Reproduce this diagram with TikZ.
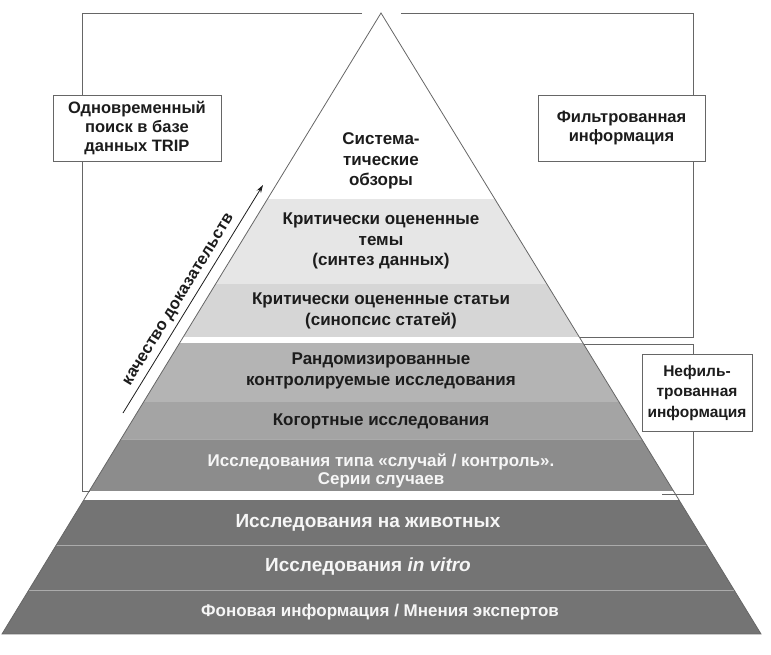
\documentclass[tikz,border=0pt]{standalone}
\usepackage{fontspec}
\setmainfont{Liberation Sans}
\usetikzlibrary{arrows.meta}
\definecolor{bandA}{HTML}{E6E6E6}
\definecolor{bandB}{HTML}{D6D6D6}
\definecolor{bandC}{HTML}{B4B4B4}
\definecolor{bandD}{HTML}{A4A4A4}
\definecolor{bandE}{HTML}{8C8C8C}
\definecolor{bandF}{HTML}{747474}
\definecolor{sepline}{HTML}{ABABAB}
\definecolor{linegray}{HTML}{666666}
\definecolor{darktext}{HTML}{1C1C1C}
\definecolor{lighttext}{HTML}{F6F6F6}
\begin{document}
\begin{tikzpicture}[x=1pt,y=-1pt,
  conn/.style={draw=linegray,line width=0.9pt},
  infobox/.style={draw=linegray,line width=0.9pt,fill=white,inner sep=0pt,align=center,
     text=darktext,font=\fontsize{16.5}{19}\selectfont\bfseries},
  dtext/.style={align=center,text=darktext,font=\fontsize{17}{20.5}\selectfont\bfseries},
  wtext/.style={align=center,text=lighttext,font=\fontsize{17}{18.5}\selectfont\bfseries},
  wbig/.style={align=center,text=lighttext,font=\fontsize{19}{20}\selectfont\bfseries},
  sep/.style={draw=sepline,line width=0.8pt}]
\useasboundingbox (0,0) rectangle (771,655);
\coordinate (apex) at (381,13);
\coordinate (bl) at (2,634);
\coordinate (br) at (761,634);
% bands
\begin{scope}
\clip (apex) -- (br) -- (bl) -- cycle;
\fill[bandA] (0,199) rectangle (771,284);
\fill[bandB] (0,284) rectangle (771,337);
\fill[bandC] (0,343) rectangle (771,402);
\fill[bandD] (0,402) rectangle (771,439);
\fill[bandE] (0,439) rectangle (771,490.5);
\fill[bandF] (0,500) rectangle (771,634);
\draw[sep] (0,439.5) -- (771,439.5);
\draw[sep] (0,545) -- (771,545);
\draw[sep] (0,590) -- (771,590);
\end{scope}
\draw[draw=linegray,line width=0.8pt] (apex) -- (br) -- (bl) -- cycle;
% texts in pyramid
\node[dtext] (t1) at (381,161) {Система-\\тические\\обзоры};
\node[dtext] (t2) at (381,241) {Критически оцененные\\темы\\(синтез данных)};
\node[dtext] (t3) at (381,311) {Критически оцененные статьи\\(синопсис статей)};
\node[dtext] (t4) at (381,371) {Рандомизированные\\контролируемые исследования};
\node[dtext] (t5) at (381,421) {Когортные исследования};
\node[wtext] (t6) at (381,471) {Исследования типа «случай / контроль».\\Серии случаев};
\node[wbig] (t7) at (368,523) {Исследования на животных};
\node[wbig] (t8) at (368,567) {Исследования \textit{in vitro}};
\node[wtext] (t9) at (380,612) {Фоновая информация / Мнения экспертов};
% boxes
\node[infobox,minimum width=168pt,minimum height=66pt] (lbox) at (137,128)
  {Одновременный\\поиск в базе\\данных TRIP};
\node[infobox,minimum width=167pt,minimum height=66pt] (rbox) at (621.5,128)
  {Фильтрованная\\информация};
\node[infobox,minimum width=110pt,minimum height=77pt,font=\fontsize{15.5}{20.5}\selectfont\bfseries] (ubox) at (697,392.5)
  {Нефиль-\\трованная\\информация};
% bracket coordinates
\coordinate (lx) at (82,0);
\coordinate (rx) at (693,0);
\coordinate (lt) at (362,13);
\coordinate (lcorner) at (82,13);
\coordinate (lbot) at (82,491);
\coordinate (lend) at (89.5,491);
\coordinate (rt) at (401,13);
\coordinate (rcorner) at (693,13);
\coordinate (rbot) at (693,337);
\coordinate (rend) at (580,337);
\coordinate (ustart) at (584,344);
\coordinate (ucorner) at (693,344);
\coordinate (ubot) at (693,494);
\coordinate (uend) at (662,494);
\draw[conn] (lt) -- (lcorner) -- (lbox.north -| lx);
\draw[conn] (lbox.south -| lx) -- (lbot) -- (lend);
\draw[conn] (rt) -- (rcorner) -- (rbox.north -| rx);
\draw[conn] (rbox.south -| rx) -- (rbot) -- (rend);
\draw[conn] (ustart) -- (ucorner) -- (ubox.north -| rx);
\draw[conn] (ubox.south -| rx) -- (ubot) -- (uend);
% quality arrow
\coordinate (q1) at (123,413);
\coordinate (q2) at (263,185);
\draw[draw=darktext,line width=0.8pt,-{Stealth[length=8pt,width=5pt]}] (q1) --
  node[sloped,above=1pt,text=darktext,font=\fontsize{16.5}{18}\selectfont\bfseries,pos=0.47] (qlab) {качество доказательств} (q2);
\end{tikzpicture}
\end{document}
